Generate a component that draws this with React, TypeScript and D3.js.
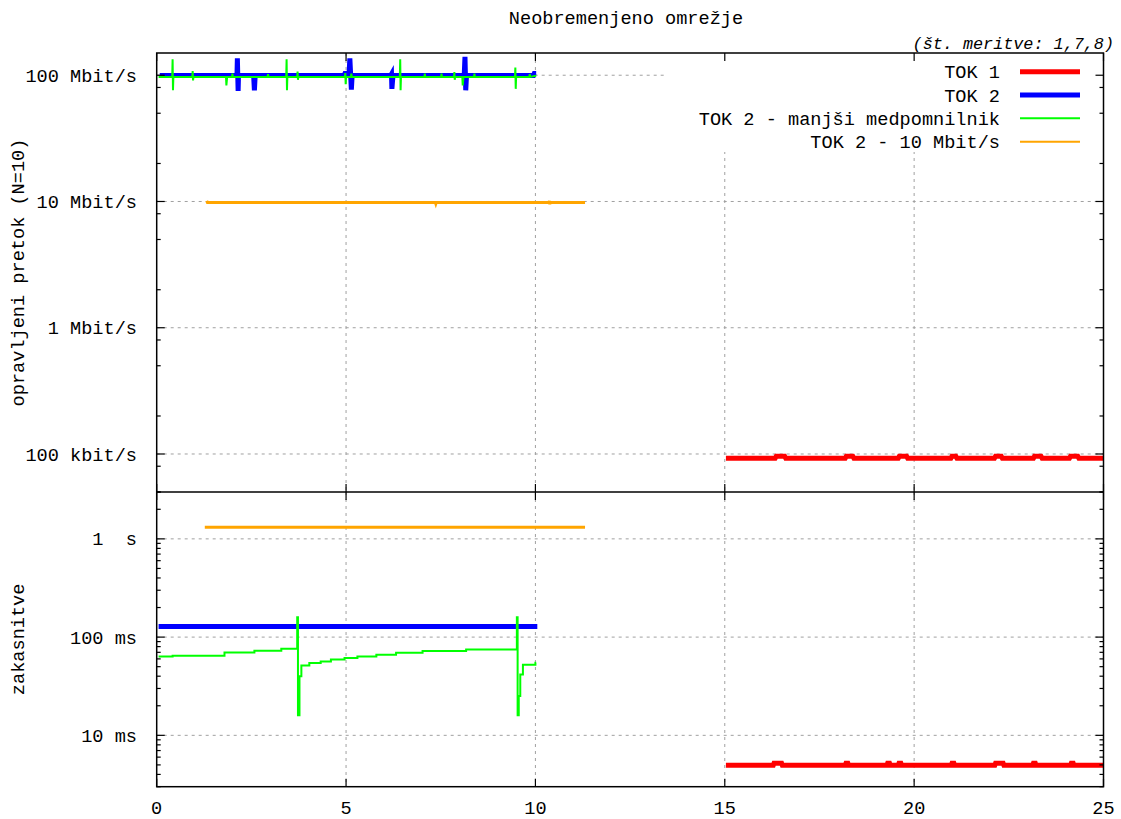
import React from "react";
import * as d3 from "d3";

// plot frame (two stacked panels sharing the x axis)
const W = 1121, H = 819;
const L = 156.7, R = 1103.5, T = 53, M = 492, B = 786.7;

const xTicks = [0, 5, 10, 15, 20, 25];
const rateTicks = [0.1, 1, 10, 100]; // Mbit/s
const rateLabels = ["100 kbit/s", "1 Mbit/s", "10 Mbit/s", "100 Mbit/s"];
const rateMinor = [0.05, 0.08, 0.2, 0.5, 0.8, 2, 5, 8, 20, 50, 80];
const delayTicks = [10, 100, 1000]; // ms
const delayLabels = ["10 ms", "100 ms", "1  s"];

const seriesNames = ["TOK 1", "TOK 2", "TOK 2 - manjši medpomnilnik", "TOK 2 - 10 Mbit/s"];
const seriesColors = ["#ff0000", "#0000ff", "#00ff00", "#ffa500"];
const seriesWidths = [5, 5, 2, 3];

// TOK 1
const tok1RateT = [15.03, 16.33, 16.36, 16.58, 16.61, 18.18, 18.21, 18.38, 18.41, 19.58, 19.61, 19.8, 19.83, 20.97, 21.0, 21.1, 21.13, 22.12, 22.15, 22.3, 22.33, 23.15, 23.18, 23.35, 23.38, 24.1, 24.13, 24.32, 24.35, 25];
const tok1Rate = [0.0925, 0.0925, 0.096, 0.096, 0.0925, 0.0925, 0.096, 0.096, 0.0925, 0.0925, 0.096, 0.096, 0.0925, 0.0925, 0.096, 0.096, 0.0925, 0.0925, 0.096, 0.096, 0.0925, 0.0925, 0.096, 0.096, 0.0925, 0.0925, 0.096, 0.096, 0.0925, 0.0925];
const tok1DelayT = [15.03, 16.28, 16.3, 16.5, 16.52, 18.18, 18.2, 18.25, 18.27, 19.28, 19.3, 19.35, 19.37, 19.58, 19.6, 19.65, 19.67, 20.98, 21.0, 21.05, 21.07, 22.13, 22.15, 22.35, 22.37, 23.13, 23.15, 23.2, 23.22, 24.13, 24.15, 24.2, 24.22, 25];
const tok1Delay = [4.95, 4.95, 5.2, 5.2, 4.95, 4.95, 5.2, 5.2, 4.95, 4.95, 5.2, 5.2, 4.95, 4.95, 5.2, 5.2, 4.95, 4.95, 5.2, 5.2, 4.95, 4.95, 5.2, 5.2, 4.95, 4.95, 5.2, 5.2, 4.95, 4.95, 5.2, 5.2, 4.95, 4.95];

// TOK 2
const tok2RateT = [0.08, 2.12, 2.13, 2.15, 2.16, 2.56, 2.58, 2.6, 4.95, 4.97, 5.08, 5.1, 5.14, 5.16, 6.18, 6.2, 6.21, 6.24, 6.3, 8.12, 8.14, 8.16, 8.18, 9.95, 9.97, 10.02];
const tok2Rate = [99.5, 99.5, 136, 75, 99.5, 99.5, 76, 99.5, 99.5, 103, 103, 136, 77, 99.5, 99.5, 102, 78, 101, 99.5, 99.5, 140, 76, 99.5, 99.5, 103, 103];
const tok2DelayT = [0.05, 10.05];
const tok2Delay = [128, 128];

// TOK 2 - manjši medpomnilnik
const tok2bRateT = [0.05, 0.41, 0.42, 0.43, 0.44, 0.94, 0.95, 0.96, 0.97, 1.83, 1.84, 1.86, 1.99, 2.0, 2.01, 2.93, 2.94, 2.95, 3.42, 3.43, 3.44, 3.45, 3.71, 3.72, 3.73, 3.74, 4.97, 4.98, 4.99, 5.0, 5.13, 5.14, 5.15, 6.42, 6.43, 6.44, 6.45, 7.07, 7.08, 7.09, 7.51, 7.52, 7.53, 7.85, 7.86, 7.87, 7.88, 8.07, 8.08, 8.1, 8.38, 8.39, 8.4, 9.46, 9.47, 9.48, 9.49, 9.84, 9.85, 9.86, 10.02];
const tok2bRate = [97, 97, 134, 76, 97, 97, 108, 91, 97, 97, 83, 97, 97, 103, 97, 97, 102, 97, 97, 134, 76, 97, 97, 107, 92, 97, 97, 104, 85, 97, 97, 103, 97, 97, 134, 76, 97, 97, 103, 97, 97, 103, 97, 97, 106, 92, 97, 97, 83, 97, 97, 103, 97, 97, 115, 78, 97, 97, 102, 97, 99];
const tok2bDelayT = [0.05, 0.42, 1.79, 2.58, 3.29, 3.71, 3.73, 3.77, 3.82, 4.03, 4.33, 4.6, 4.96, 5.3, 5.8, 6.32, 7.02, 8.17, 9.51, 9.53, 9.56, 9.6, 9.67, 10.0, 10.02];
const tok2bDelay = [63.5, 64.6, 69.8, 72.6, 76, 159, 16, 40, 51.5, 54.5, 56.6, 59.2, 61.2, 63.5, 66, 69.3, 72, 74.9, 159, 16, 25.2, 41.7, 52.3, 54.8, 54.8];

// TOK 2 - 10 Mbit/s
const tok2cRateT = [1.32, 1.34, 7.36, 7.37, 7.38, 10.36, 10.37, 10.38, 10.39, 11.31];
const tok2cRate = [10.1, 9.8, 9.8, 9.6, 9.8, 9.8, 10.1, 9.5, 9.8, 9.8];
const tok2cDelayT = [1.27, 11.31];
const tok2cDelay = [1315, 1315];

const FONT = "Liberation Mono, monospace";
const FS = 18.6;

export default function App() {
  const x = d3.scaleLinear().domain([0, 25]).range([L, R]);
  const yRate = d3.scaleLog().domain([0.05, 150]).range([M, T]);
  const yDelay = d3.scaleLog().domain([3, 3000]).range([B, M]);

  const zip = (a: number[], b: number[]) => a.map((t, i) => [t, b[i]] as [number, number]);
  const rateLine = d3.line<[number, number]>().x(d => x(d[0])).y(d => yRate(d[1]));
  const delayLine = d3.line<[number, number]>().x(d => x(d[0])).y(d => yDelay(d[1]));
  const delayStep = d3.line<[number, number]>().x(d => x(d[0])).y(d => yDelay(d[1])).curve(d3.curveStepAfter);

  const paths = [
    { d: rateLine(zip(tok1RateT, tok1Rate)), s: 0 },
    { d: delayLine(zip(tok1DelayT, tok1Delay)), s: 0 },
    { d: rateLine(zip(tok2RateT, tok2Rate)), s: 1 },
    { d: delayLine(zip(tok2DelayT, tok2Delay)), s: 1 },
    { d: rateLine(zip(tok2bRateT, tok2bRate)), s: 2 },
    { d: delayStep(zip(tok2bDelayT, tok2bDelay)), s: 2 },
    { d: rateLine(zip(tok2cRateT, tok2cRate)), s: 3 },
    { d: delayLine(zip(tok2cDelayT, tok2cDelay)), s: 3 },
  ];

  const delayMinor = yDelay.ticks().filter(v => delayTicks.indexOf(v) < 0);
  const gridX = xTicks.filter(v => v > 0 && v < 25);
  const grid = { stroke: "#a0a0a0", strokeWidth: 1, strokeDasharray: "3,4" };
  const MAJ = 8, MIN = 4;
  const tickStyle = { stroke: "#000", strokeWidth: 1.2 };

  const keyRows = [71.7, 95, 118.3, 141.7];

  return (
    <svg width={W} height={H} style={{ position: "absolute", left: 0, top: 0, background: "#fff" }}
      fontFamily={FONT} fontSize={FS}>
      {/* grid */}
      {gridX.map(v => (
        <g key={"gx" + v}>
          <line x1={x(v)} x2={x(v)} y1={T} y2={M} {...grid} />
          <line x1={x(v)} x2={x(v)} y1={M} y2={B} {...grid} />
        </g>
      ))}
      {rateTicks.map(v => <line key={"gr" + v} x1={L} x2={R} y1={yRate(v)} y2={yRate(v)} {...grid} />)}
      {delayTicks.map(v => <line key={"gd" + v} x1={L} x2={R} y1={yDelay(v)} y2={yDelay(v)} {...grid} />)}

      {/* opaque key box */}
      <rect x={664} y={T} width={R - 664} height={152 - T} fill="#fff" />

      {/* data */}
      {paths.map((p, i) => (
        <path key={"p" + i} d={p.d || ""} fill="none" stroke={seriesColors[p.s]}
          strokeWidth={seriesWidths[p.s]} strokeLinejoin="miter" />
      ))}

      {/* frame */}
      <rect x={L} y={T} width={R - L} height={B - T} fill="none" stroke="#000" strokeWidth={1.5} />
      <line x1={L} x2={R} y1={M} y2={M} stroke="#000" strokeWidth={1.5} />

      {/* y ticks */}
      {rateTicks.map(v => (
        <g key={"rt" + v}>
          <line x1={L} x2={L + MAJ} y1={yRate(v)} y2={yRate(v)} {...tickStyle} />
          <line x1={R} x2={R - MAJ} y1={yRate(v)} y2={yRate(v)} {...tickStyle} />
        </g>
      ))}
      {rateMinor.map(v => (
        <g key={"rm" + v}>
          <line x1={L} x2={L + MIN} y1={yRate(v)} y2={yRate(v)} {...tickStyle} />
          <line x1={R} x2={R - MIN} y1={yRate(v)} y2={yRate(v)} {...tickStyle} />
        </g>
      ))}
      {delayTicks.map(v => (
        <g key={"dt" + v}>
          <line x1={L} x2={L + MAJ} y1={yDelay(v)} y2={yDelay(v)} {...tickStyle} />
          <line x1={R} x2={R - MAJ} y1={yDelay(v)} y2={yDelay(v)} {...tickStyle} />
        </g>
      ))}
      {delayMinor.map(v => (
        <g key={"dm" + v}>
          <line x1={L} x2={L + MIN} y1={yDelay(v)} y2={yDelay(v)} {...tickStyle} />
          <line x1={R} x2={R - MIN} y1={yDelay(v)} y2={yDelay(v)} {...tickStyle} />
        </g>
      ))}

      {/* x ticks */}
      {xTicks.map(v => (
        <g key={"xt" + v}>
          <line x1={x(v)} x2={x(v)} y1={T} y2={T + MAJ} {...tickStyle} />
          <line x1={x(v)} x2={x(v)} y1={M - MAJ} y2={M + MAJ} {...tickStyle} />
          <line x1={x(v)} x2={x(v)} y1={B} y2={B - MAJ} {...tickStyle} />
          <text x={x(v)} y={814} textAnchor="middle">{v}</text>
        </g>
      ))}

      {/* y tick labels */}
      {rateTicks.map((v, i) => (
        <text key={"rl" + v} x={137} y={yRate(v)} dy="0.35em" textAnchor="end" style={{ whiteSpace: "pre" }}>{rateLabels[i]}</text>
      ))}
      {delayTicks.map((v, i) => (
        <text key={"dl" + v} x={137} y={yDelay(v)} dy="0.35em" textAnchor="end" style={{ whiteSpace: "pre" }}>{delayLabels[i]}</text>
      ))}

      {/* axis titles */}
      <text transform={"translate(24," + (T + M) / 2 + ") rotate(-90)"} textAnchor="middle">opravljeni pretok (N=10)</text>
      <text transform={"translate(24," + (M + B) / 2 + ") rotate(-90)"} textAnchor="middle">zakasnitve</text>

      {/* titles */}
      <text x={626} y={24} textAnchor="middle">Neobremenjeno omrežje</text>
      <text x={1114} y={48.5} textAnchor="end" fontStyle="italic" fontSize={16.8}>(št. meritve: 1,7,8)</text>

      {/* key */}
      {seriesNames.map((n, i) => (
        <g key={"k" + i}>
          <text x={1000} y={keyRows[i]} dy="0.35em" textAnchor="end">{n}</text>
          <line x1={1020} x2={1080} y1={keyRows[i]} y2={keyRows[i]} stroke={seriesColors[i]}
            strokeWidth={i < 2 ? 5 : 2} />
        </g>
      ))}
    </svg>
  );
}
